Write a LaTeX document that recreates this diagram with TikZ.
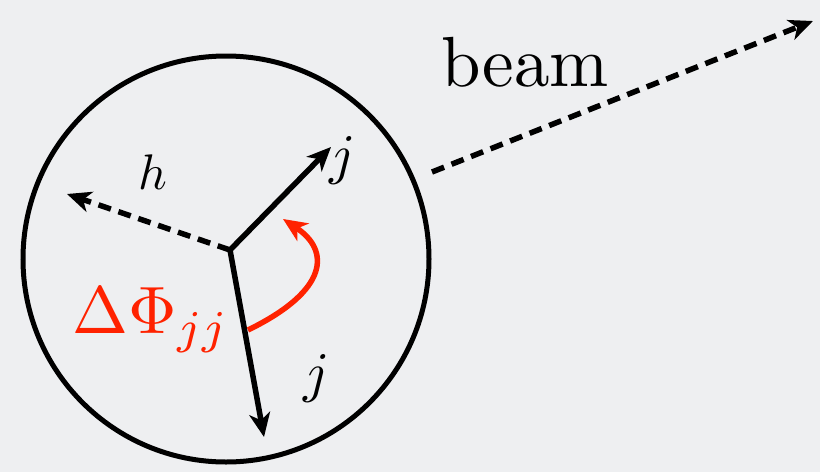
\documentclass[tikz,border=0pt]{standalone}
\usetikzlibrary{arrows.meta}
\definecolor{bg}{HTML}{EEEFF1}
\definecolor{redarc}{HTML}{FF2200}
\begin{document}
\begin{tikzpicture}[x=1pt,y=-1pt,
  vec/.style={line width=5.5pt,-{Stealth[length=24pt,width=21pt,inset=7pt]}},
  dvec/.style={vec,dash pattern=on 13pt off 8pt},
  lab/.style={inner sep=0pt}]
\fill[bg] (0,0) rectangle (820,472);
\useasboundingbox (0,0) rectangle (820,472);
\node[draw,circle,line width=5pt,minimum size=406pt,inner sep=0pt] (jet) at (226,259) {};
\coordinate (o) at (230,250);
\coordinate (j1) at (331,147);
\coordinate (h) at (67,194);
\coordinate (j2) at (264,437);
\coordinate (bs) at (432,172);
\coordinate (be) at (813,21);
\coordinate (as) at (248,330);
\coordinate (ae) at (283,219);
\draw[vec] (o) -- (j1);
\draw[dvec] (o) -- (h);
\draw[vec] (o) -- (j2);
\draw[dvec] (bs) -- (be);
\draw[vec,redarc] (as) .. controls (330,290) and (330,250) .. (ae);
\node[lab,scale=5.6] (lj1) at (343,160) {$j$};
\node[lab,scale=5] (lh) at (153,172) {$h$};
\node[lab,scale=5.6] (lj2) at (317,378) {$j$};
\node[lab,scale=6.7,text=redarc] (ldp) at (151,320) {$\Delta\Phi_{jj}$};
\node[lab,scale=7.1] (lb) at (525,62) {beam};
\end{tikzpicture}
\end{document}
